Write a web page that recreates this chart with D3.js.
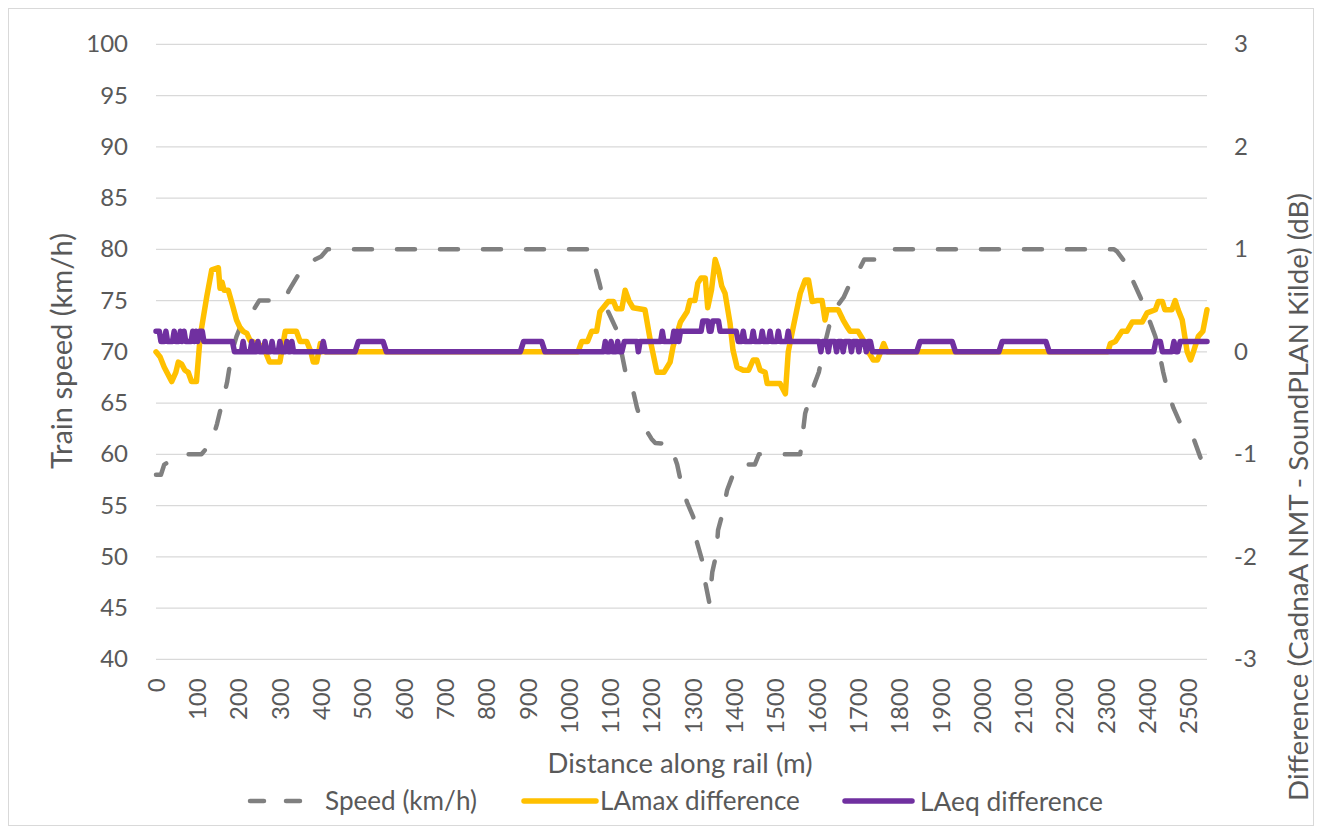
<!DOCTYPE html>
<html>
<head>
<meta charset="utf-8">
<script src="https://cdn.jsdelivr.net/npm/d3@7/dist/d3.min.js"></script>
<style>
  html, body { margin: 0; padding: 0; background: #fff; }
  svg { display: block; font-family: Lato, "Open Sans", sans-serif; }
</style>
</head>
<body>
<svg id="chart" width="1322" height="834"></svg>
<script>
// ---------- DATA ----------
const xTicks = d3.range(0, 2501, 100);
const speedTicks = [40, 45, 50, 55, 60, 65, 70, 75, 80, 85, 90, 95, 100];
const diffTicks = [-3, -2, -1, 0, 1, 2, 3];

const speedX = [0, 12, 20, 40, 60, 110, 135, 148, 160, 172, 184, 195, 211, 235, 250, 310, 322, 355, 370, 385, 400, 415,
  1050, 1055, 1075, 1085, 1095, 1117, 1136, 1153, 1165, 1177, 1200, 1209, 1245, 1262, 1270, 1286, 1301, 1310, 1322, 1330, 1340,
  1347, 1357, 1361, 1373, 1383, 1397, 1410, 1450, 1460, 1560, 1572, 1592, 1605, 1615, 1630, 1650, 1665, 1690, 1705, 1715, 1745, 1770,
  2320, 2327, 2351, 2367, 2384, 2408, 2420, 2432, 2439, 2451, 2464, 2485, 2512, 2529, 2545];
const speedY = [58, 58, 59, 59.5, 60, 60, 61.2, 63, 65, 67, 70, 71.5, 73.1, 74, 75, 75, 76, 78.2, 78.6, 79, 79.3, 80,
  80, 79.5, 76.5, 74.7, 73.9, 72, 68.2, 66.6, 64.5, 63, 61.5, 61.1, 61, 59, 57.5, 55.3, 53.9, 51.4, 49.7, 47.5, 45.5,
  48.5, 50.3, 52.6, 54.4, 56.5, 58, 59, 59, 60, 60, 64, 66.6, 68, 70, 72.5, 74.5, 75.3, 77.5, 78.2, 79, 79, 80,
  80, 79.8, 78.5, 76.8, 75.3, 72.8, 71.5, 69.4, 68, 66, 64.5, 62.6, 61.6, 59.7, 58];

const lamaxX = [0, 10, 20, 38, 48, 54, 62, 70, 78, 86, 98, 107, 123, 135, 151, 155, 160, 165, 175, 185, 195, 203, 211, 220, 228, 245, 260, 275, 300, 313, 340, 349, 365, 375, 381, 389, 398, 405,
  1022, 1031, 1045, 1055, 1067, 1075, 1095, 1108, 1115, 1128, 1136, 1145, 1155, 1184, 1197, 1213, 1230, 1245, 1252, 1270, 1286, 1293, 1305, 1312, 1320, 1330, 1336, 1345, 1354, 1362, 1370, 1378, 1390, 1397,
  1407, 1422, 1435, 1446, 1455, 1463, 1475, 1480, 1511, 1524, 1531, 1543, 1560, 1572, 1580, 1589, 1601, 1613, 1620, 1625, 1652, 1664, 1674, 1681, 1700, 1715, 1725, 1737, 1747, 1755, 1762, 1770,
  2305, 2311, 2323, 2339, 2351, 2364, 2388, 2400, 2420, 2427, 2437, 2443, 2460, 2468, 2475, 2485, 2497, 2505, 2512, 2524, 2535, 2545];
const lamaxY = [0, -0.05, -0.15, -0.29, -0.2, -0.1, -0.12, -0.18, -0.2, -0.29, -0.29, 0.15, 0.54, 0.8, 0.82, 0.62, 0.68, 0.6, 0.6, 0.46, 0.31, 0.24, 0.2, 0.18, 0.11, 0.08, 0.05, -0.1, -0.1, 0.2, 0.2, 0.1, 0.1, 0, -0.1, -0.1, 0.08, 0,
  0, 0.1, 0.1, 0.2, 0.2, 0.39, 0.49, 0.49, 0.42, 0.42, 0.6, 0.5, 0.43, 0.41, 0.11, -0.2, -0.2, -0.1, 0.05, 0.29, 0.39, 0.5, 0.5, 0.67, 0.72, 0.72, 0.43, 0.6, 0.9, 0.8, 0.64, 0.57, 0.28, 0.02,
  -0.15, -0.18, -0.18, -0.08, -0.08, -0.18, -0.2, -0.31, -0.31, -0.41, 0, 0.24, 0.57, 0.7, 0.7, 0.49, 0.5, 0.5, 0.31, 0.41, 0.41, 0.31, 0.24, 0.2, 0.2, 0.1, 0, -0.08, -0.08, 0, 0.08, 0,
  0, 0.08, 0.1, 0.2, 0.2, 0.29, 0.29, 0.38, 0.41, 0.49, 0.49, 0.41, 0.41, 0.5, 0.41, 0.31, 0, -0.08, 0, 0.15, 0.2, 0.41];

const laeqX = [0, 8, 12, 20, 24, 28, 40, 44, 48, 55, 59, 63, 68, 72, 85, 89, 93, 97, 101, 105, 112, 116, 185, 190,
  207, 211, 215, 228, 232, 236, 243, 247, 251, 260, 264, 268, 277, 281, 285, 296, 300, 304, 313, 317, 321, 325, 329, 333,
  400, 405, 410, 482, 490, 550, 558, 882, 890, 934, 942,
  1084, 1088, 1092, 1098, 1102, 1106, 1114, 1118, 1122, 1128, 1134, 1165, 1168, 1172, 1222, 1226, 1230, 1250, 1254, 1258, 1262, 1266, 1270,
  1320, 1324, 1336, 1340, 1344, 1348, 1362, 1366, 1405, 1410, 1418, 1422, 1426, 1442, 1446, 1450, 1464, 1468, 1472, 1483, 1487, 1491,
  1503, 1507, 1511, 1527, 1531, 1535, 1606, 1610, 1614, 1624, 1628, 1632, 1644, 1648, 1652, 1660, 1664, 1668, 1680, 1684, 1688,
  1698, 1702, 1706, 1716, 1720, 1724, 1730, 1735, 1842, 1850, 1928, 1936, 2041, 2049, 2155, 2163,
  2416, 2421, 2432, 2437, 2460, 2465, 2470, 2474, 2480, 2545];
const laeqY = [0.2, 0.2, 0.1, 0.1, 0.2, 0.1, 0.1, 0.2, 0.1, 0.1, 0.2, 0.1, 0.2, 0.1, 0.1, 0.2, 0.1, 0.2, 0.1, 0.2, 0.2, 0.1, 0.1, 0,
  0, 0.1, 0, 0, 0.1, 0, 0, 0.1, 0, 0, 0.1, 0, 0, 0.1, 0, 0, 0.1, 0, 0, 0.1, 0, 0, 0.1, 0,
  0, 0.1, 0, 0, 0.1, 0.1, 0, 0, 0.1, 0.1, 0,
  0, 0.1, 0, 0, 0.1, 0, 0, 0.1, 0, 0, 0.1, 0.1, 0, 0.1, 0.1, 0.2, 0.1, 0.1, 0.2, 0.1, 0.2, 0.1, 0.2,
  0.2, 0.3, 0.3, 0.2, 0.2, 0.3, 0.3, 0.2, 0.2, 0.1, 0.1, 0.2, 0.1, 0.1, 0.2, 0.1, 0.1, 0.2, 0.1, 0.1, 0.2, 0.1,
  0.1, 0.2, 0.1, 0.1, 0.2, 0.1, 0.1, 0, 0.1, 0.1, 0, 0.1, 0.1, 0, 0.1, 0.1, 0, 0.1, 0.1, 0, 0.1,
  0.1, 0, 0.1, 0.1, 0, 0.1, 0.1, 0, 0, 0.1, 0.1, 0, 0, 0.1, 0.1, 0,
  0, 0.1, 0.1, 0, 0, 0.1, 0, 0, 0.1, 0.1];

const seriesNames = ["Speed (km/h)", "LAmax difference", "LAeq difference"];
const xTitle = "Distance along rail (m)";
const yTitle = "Train speed (km/h)";
const y2Title = "Difference (CadnaA NMT - SoundPLAN Kilde) (dB)";

// ---------- LAYOUT ----------
const svg = d3.select("#chart");
const L = 156, R = 1207, T = 44.3, B = 659.3;
const textColor = "#595959";
const fmt = d => String(d);

// scale a text's font size so that it spans the given width
function fit(sel, width) {
  sel.attr("font-size", 20);
  const len = sel.node().getComputedTextLength();
  sel.attr("font-size", 20 * width / len);
  return sel;
}

const x = d3.scaleLinear().domain([0, 2545]).range([L, R]);
const y = d3.scaleLinear().domain([40, 100]).range([B, T]);
const y2 = d3.scaleLinear().domain([-3, 3]).range([B, T]);

// chart border
svg.append("rect").attr("x", 8.5).attr("y", 8.5).attr("width", 1305).attr("height", 817)
  .attr("fill", "none").attr("stroke", "#d9d9d9").attr("stroke-width", 1);

// gridlines
svg.append("g").selectAll("line").data(speedTicks).join("line")
  .attr("x1", L).attr("x2", R).attr("y1", d => y(d)).attr("y2", d => y(d))
  .attr("stroke", "#d9d9d9").attr("stroke-width", 1.3);

// left axis
const gl = svg.append("g").attr("transform", `translate(${L - 28},0)`)
  .call(d3.axisLeft(y).tickValues(speedTicks).tickFormat(fmt).tickSize(0).tickPadding(0));
gl.select(".domain").remove();
gl.selectAll("text").attr("font-size", 24).attr("fill", textColor).attr("font-family", "Lato, sans-serif");

// right axis
const gr = svg.append("g").attr("transform", `translate(${R + 27},0)`)
  .call(d3.axisRight(y2).tickValues(diffTicks).tickFormat(fmt).tickSize(0).tickPadding(0));
gr.select(".domain").remove();
gr.selectAll("text").attr("font-size", 24).attr("fill", textColor).attr("font-family", "Lato, sans-serif");

// bottom axis
const gb = svg.append("g").attr("transform", `translate(0,${B})`)
  .call(d3.axisBottom(x).tickValues(xTicks).tickFormat(fmt).tickSize(0).tickPadding(0));
gb.select(".domain").remove();
gb.selectAll("text")
  .attr("font-size", 24).attr("fill", textColor).attr("font-family", "Lato, sans-serif")
  .attr("text-anchor", "end").attr("dy", "0.35em").attr("y", 0)
  .attr("transform", "translate(0,19) rotate(-90)");

// axis titles
fit(svg.append("text").attr("x", 680).attr("y", 763).attr("dy", "0.36em").attr("text-anchor", "middle")
  .attr("fill", textColor).text(xTitle), 265);
fit(svg.append("text").attr("transform", "translate(62,351) rotate(-90)").attr("dy", "0.36em").attr("text-anchor", "middle")
  .attr("fill", textColor).text(yTitle), 236);
fit(svg.append("text").attr("transform", "translate(1298,497) rotate(-90)").attr("dy", "0.36em").attr("text-anchor", "middle")
  .attr("fill", textColor).text(y2Title), 608);

// lines
const clip = svg.append("g");
const speedData = speedX.map((d, i) => [d, speedY[i]]);
const lamaxData = lamaxX.map((d, i) => [d, lamaxY[i]]);
const laeqData = laeqX.map((d, i) => [d, laeqY[i]]);

clip.append("path").datum(speedData)
  .attr("d", d3.line().x(d => x(d[0])).y(d => y(d[1])))
  .attr("fill", "none").attr("stroke", "#808080").attr("stroke-width", 4.5)
  .attr("stroke-dasharray", "18,25").attr("stroke-linecap", "round").attr("stroke-linejoin", "round");
clip.append("path").datum(lamaxData)
  .attr("d", d3.line().x(d => x(d[0])).y(d => y2(d[1])))
  .attr("fill", "none").attr("stroke", "#FFC000").attr("stroke-width", 5.5)
  .attr("stroke-linecap", "round").attr("stroke-linejoin", "round");
clip.append("path").datum(laeqData)
  .attr("d", d3.line().x(d => x(d[0])).y(d => y2(d[1])))
  .attr("fill", "none").attr("stroke", "#7030A0").attr("stroke-width", 5.5)
  .attr("stroke-linecap", "round").attr("stroke-linejoin", "round");

// legend
const legendY = 801;
const legendItems = [
  { name: seriesNames[0], color: "#808080", dash: "14,22", x1: 250, x2: 310, tx: 325, w: 152 },
  { name: seriesNames[1], color: "#FFC000", dash: null, x1: 524, x2: 596, tx: 600, w: 200 },
  { name: seriesNames[2], color: "#7030A0", dash: null, x1: 845, x2: 912, tx: 920, w: 183 }
];
const lg = svg.append("g");
legendItems.forEach(it => {
  lg.append("line").attr("x1", it.x1).attr("x2", it.x2).attr("y1", legendY).attr("y2", legendY)
    .attr("stroke", it.color).attr("stroke-width", it.dash ? 4.5 : 5.5).attr("stroke-linecap", "round")
    .attr("stroke-dasharray", it.dash);
  fit(lg.append("text").attr("x", it.tx).attr("y", legendY).attr("dy", "0.36em")
    .attr("fill", textColor).text(it.name), it.w);
});
</script>
</body>
</html>
